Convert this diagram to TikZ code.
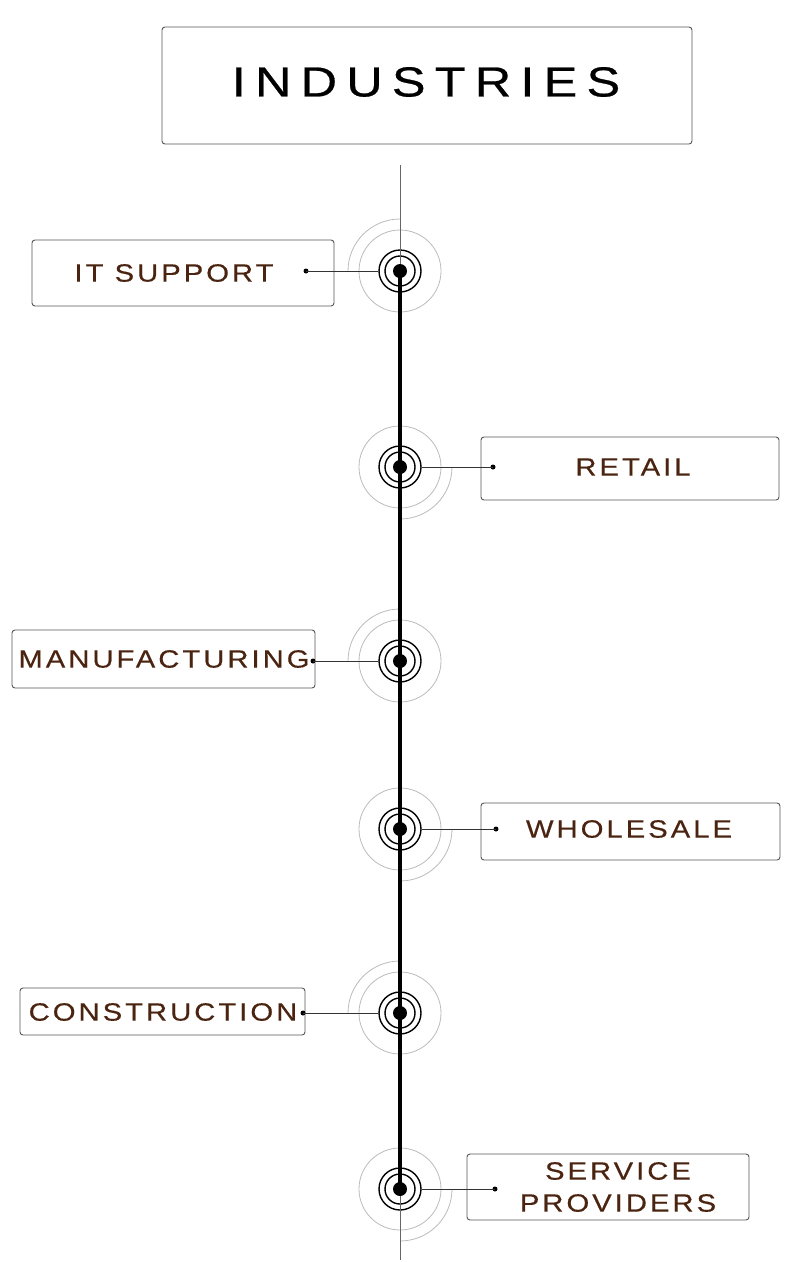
\documentclass[tikz,border=0pt]{standalone}
\usepackage{fontspec}
\newfontfamily\labfont[FakeStretch=1.17,LetterSpace=12,FakeBold=0.4]{Liberation Sans}
\newfontfamily\ttlfont[FakeStretch=1.2,LetterSpace=22,FakeBold=0.6]{Liberation Sans}
\definecolor{brownlab}{HTML}{4A2410}
\definecolor{boxgray}{HTML}{555555}
\definecolor{ringgray}{HTML}{BBBBBB}
\tikzset{
  box/.style={draw=boxgray, line width=0.9pt, rounded corners=3pt, rectangle, inner sep=0pt},
  lab/.style={font=\labfont\fontsize{25}{32}\selectfont, text=brownlab, inner sep=0pt, align=center},
  hubdot/.style={circle, fill=black, minimum size=14pt, inner sep=0pt},
  ringin/.style={circle, draw=black, line width=1.4pt, minimum size=30pt, inner sep=0pt},
  ringout/.style={circle, draw=black, line width=1.4pt, minimum size=42pt, inner sep=0pt},
  halo/.style={circle, draw=ringgray, line width=0.8pt, minimum size=82pt, inner sep=0pt},
  haloarc/.style={draw=ringgray, line width=0.8pt},
  pin/.style={circle, fill=black, minimum size=5pt, inner sep=0pt},
  conn/.style={draw=black!80, line width=0.9pt},
}
\begin{document}
\begin{tikzpicture}[x=1pt,y=-1pt]
\useasboundingbox (0,0) rectangle (800,1262);
% title
\node[box, minimum width=530pt, minimum height=117pt] (title) at (427,85.5) {};
\node[font=\ttlfont\fontsize{42}{50}\selectfont, inner sep=0pt] (titletext) at (426,82) {INDUSTRIES};
% spine
\coordinate (top) at (400,165);
\coordinate (bot) at (400,1260);
% hubs
\foreach \i/\y in {1/271,2/467,3/661,4/829,5/1013,6/1189}{
  \node[halo] (halo\i) at (400,\y) {};
  \node[ringout] (ro\i) at (400,\y) {};
  \node[ringin] (ri\i) at (400,\y) {};
}
% quarter arcs: left hubs upper-left, right hubs lower-right
\foreach \i in {1,3,5}{
  \draw[haloarc] ([xshift=-52pt]ro\i.center) arc[start angle=180, end angle=90, radius=52pt];
}
\foreach \i in {2,4,6}{
  \draw[haloarc] ([xshift=52pt]ro\i.center) arc[start angle=0, end angle=-90, radius=52pt];
}
\draw[draw=black!60, line width=0.9pt] (top) -- (ro1.center);
\draw[draw=black!60, line width=0.9pt] (ro6.center) -- (bot);
\draw[line width=3.6pt] (ro1.center) -- (ro6.center);
\foreach \i/\y in {1/271,2/467,3/661,4/829,5/1013,6/1189}{
  \node[hubdot] (hd\i) at (400,\y) {};
}
% boxes
\node[box, minimum width=302pt, minimum height=66pt] (b1) at (183,273) {};
\node[lab] (t1) at (174,273) {IT SUPPORT};
\node[pin] (p1) at (306,271) {};
\node[box, minimum width=298pt, minimum height=63pt] (b2) at (630,468.5) {};
\node[lab] (t2) at (633,467) {RETAIL};
\node[pin] (p2) at (493,467) {};
\node[box, minimum width=303pt, minimum height=58pt] (b3) at (163.5,659) {};
\node[lab] (t3) at (164,659) {MANUFACTURING};
\node[pin] (p3) at (313,661) {};
\node[box, minimum width=299pt, minimum height=57pt] (b4) at (630.5,831.5) {};
\node[lab] (t4) at (629,829) {WHOLESALE};
\node[pin] (p4) at (496,829) {};
\node[box, minimum width=285pt, minimum height=47pt] (b5) at (162.5,1011.5) {};
\node[lab] (t5) at (163,1012) {CONSTRUCTION};
\node[pin] (p5) at (303,1013) {};
\node[box, minimum width=282pt, minimum height=66pt] (b6) at (608,1187) {};
\node[lab] (t6) at (618,1187) {SERVICE\\PROVIDERS};
\node[pin] (p6) at (495,1189) {};
% connectors
\draw[conn] (p1.center) -- (ro1.west);
\draw[conn] (p2.center) -- (ro2.east);
\draw[conn] (p3.center) -- (ro3.west);
\draw[conn] (p4.center) -- (ro4.east);
\draw[conn] (p5.center) -- (ro5.west);
\draw[conn] (p6.center) -- (ro6.east);
\end{tikzpicture}
\end{document}
